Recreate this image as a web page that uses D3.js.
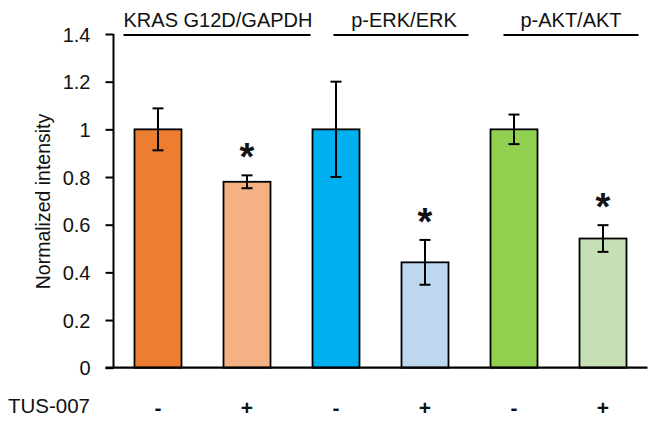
<!DOCTYPE html>
<html>
<head>
<meta charset="utf-8">
<script src="https://cdn.jsdelivr.net/npm/d3@7"></script>
<style>
  html, body { margin: 0; padding: 0; background: #fff; }
  svg { display: block; font-family: "Liberation Sans", Arial, sans-serif; }
</style>
</head>
<body>
<svg id="chart" width="650" height="421"></svg>
<script>
// ---- data ----
const categories = ["KRAS-", "KRAS+", "ERK-", "ERK+", "AKT-", "AKT+"];
const treatment = ["-", "+", "-", "+", "-", "+"];
const values = [1.0, 0.78, 1.0, 0.442, 1.0, 0.542];
const errors = [0.088, 0.027, 0.20, 0.094, 0.062, 0.056];
const significant = [false, true, false, true, false, true];
const barColors = ["#ED7D31", "#F4B183", "#00B0F0", "#BDD7EE", "#92D050", "#C5E0B4"];
const groupLabels = ["KRAS G12D/GAPDH", "p-ERK/ERK", "p-AKT/AKT"];
const yTicks = [0, 0.2, 0.4, 0.6, 0.8, 1, 1.2, 1.4];
const yTickLabels = ["0", "0.2", "0.4", "0.6", "0.8", "1", "1.2", "1.4"];
const rowLabel = "TUS-007";
const yTitle = "Normalized intensity";

// ---- layout ----
const svg = d3.select("#chart");
const x0 = 113.5, x1 = 647.5, yBottom = 367.7, yTop = 34;

const x = d3.scaleBand().domain(categories).range([x0, x1])
  .paddingInner(0.472).paddingOuter(0.236);
const y = d3.scaleLinear().domain([0, 1.4]).range([yBottom, yTop]);

// bars
svg.append("g").selectAll("rect").data(categories).join("rect")
  .attr("x", d => x(d))
  .attr("y", (d, i) => y(values[i]))
  .attr("width", x.bandwidth())
  .attr("height", (d, i) => y(0) - y(values[i]))
  .attr("fill", (d, i) => barColors[i])
  .attr("stroke", "#000")
  .attr("stroke-width", 1.8);

// error bars
const eg = svg.append("g").attr("stroke", "#000").attr("stroke-width", 2);
categories.forEach((c, i) => {
  const cx = x(c) + x.bandwidth() / 2;
  const top = y(values[i] + errors[i]), bot = y(values[i] - errors[i]);
  eg.append("line").attr("x1", cx).attr("x2", cx).attr("y1", top).attr("y2", bot);
  eg.append("line").attr("x1", cx - 5.5).attr("x2", cx + 5.5).attr("y1", top).attr("y2", top);
  eg.append("line").attr("x1", cx - 5.5).attr("x2", cx + 5.5).attr("y1", bot).attr("y2", bot);
});

// significance asterisks
svg.append("g").selectAll("text").data(categories.filter((c, i) => significant[i])).join("text")
  .attr("x", d => x(d) + x.bandwidth() / 2)
  .attr("y", d => { const i = categories.indexOf(d); return y(values[i] + errors[i]) - 5; })
  .attr("text-anchor", "middle")
  .attr("font-size", 38)
  .attr("font-weight", "bold")
  .attr("fill", "#111")
  .text("*");

// y axis
const yAxis = d3.axisLeft(y).tickValues(yTicks)
  .tickFormat((d, i) => yTickLabels[i]).tickSize(8).tickSizeOuter(0).tickPadding(15);
const ya = svg.append("g").attr("transform", `translate(${x0},0)`).call(yAxis);
ya.select(".domain").attr("stroke-width", 2).attr("d", `M0,${yTop}V${yBottom}`);
ya.selectAll(".tick line").attr("stroke-width", 2);
ya.selectAll(".tick text").attr("font-size", 20).attr("fill", "#111")
  .attr("font-family", "Liberation Sans, Arial, sans-serif").attr("dy", "0.36em");

// x axis baseline
svg.append("line").attr("x1", x0 - 8).attr("x2", x1).attr("y1", y(0)).attr("y2", y(0))
  .attr("stroke", "#000").attr("stroke-width", 2.2);

// treatment labels
svg.append("g").selectAll("text").data(categories).join("text")
  .attr("x", d => x(d) + x.bandwidth() / 2)
  .attr("y", 414.5)
  .attr("text-anchor", "middle")
  .attr("font-size", 21)
  .attr("font-weight", "bold")
  .attr("fill", "#111")
  .text((d, i) => treatment[i]);

svg.append("text").attr("x", 90).attr("y", 412.5).attr("text-anchor", "end")
  .attr("font-size", 20.5).attr("fill", "#111").text(rowLabel);

// y title
svg.append("text").attr("transform", "translate(50,201.5) rotate(-90)")
  .attr("text-anchor", "middle").attr("font-size", 19.5).attr("fill", "#111").text(yTitle);

// group headers with underlines (positions relative to the band scale)
const headerSpans = [
  [x(categories[0]) - 11, x(categories[2]) - 2, 218],
  [x(categories[2]) + 21, x(categories[4]) - 22, 404],
  [x(categories[4]) + 13, x(categories[5]) + x.bandwidth() + 12, 571]
];
groupLabels.forEach((g, i) => {
  const [a, b, c] = headerSpans[i];
  svg.append("line").attr("x1", a).attr("x2", b).attr("y1", 35).attr("y2", 35)
    .attr("stroke", "#000").attr("stroke-width", 2);
  svg.append("text").attr("x", c).attr("y", 26.5).attr("text-anchor", "middle")
    .attr("font-size", 20).attr("fill", "#111").text(g);
});
</script>
</body>
</html>
